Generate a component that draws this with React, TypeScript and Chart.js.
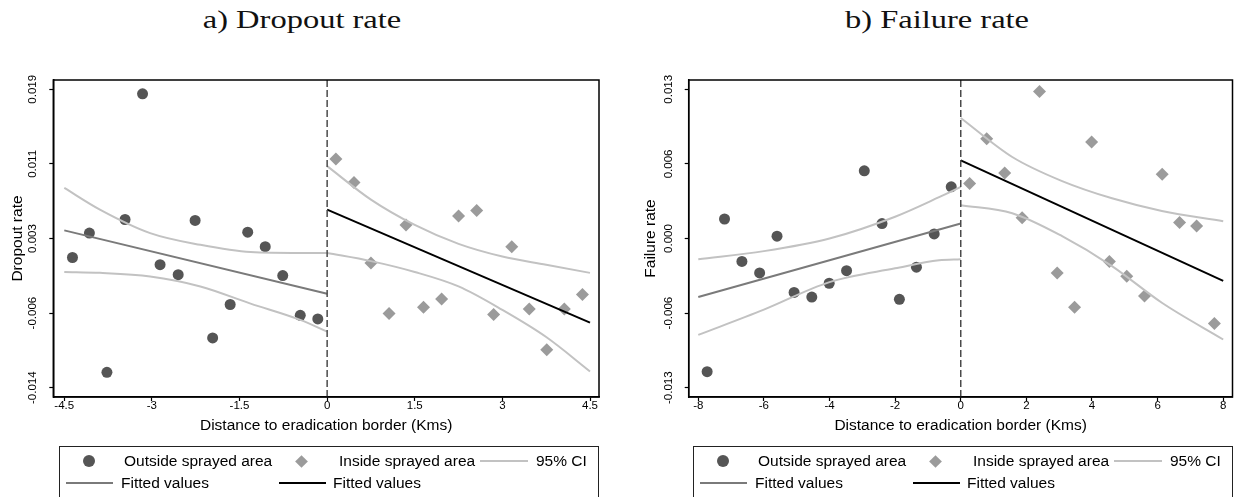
import React, { useEffect, useRef } from "react";
import { Chart, registerables } from "chart.js";

Chart.register(...registerables);

// ---------- Panel a) Dropout rate ----------
const A_OUT_X = [-4.36, -4.07, -3.77, -3.46, -3.16, -2.86, -2.55, -2.26, -1.96, -1.66, -1.36, -1.06, -0.76, -0.46, -0.16];
const A_OUT_Y = [0.0004, 0.0031, -0.0123, 0.0046, 0.0185, -0.0004, -0.0015, 0.0045, -0.0085, -0.0048, 0.0032, 0.0016, -0.0016, -0.006, -0.0064];
const A_IN_X = [0.15, 0.46, 0.75, 1.06, 1.35, 1.65, 1.96, 2.25, 2.56, 2.85, 3.16, 3.46, 3.76, 4.06, 4.37];
const A_IN_Y = [0.0113, 0.0087, -0.0002, -0.0058, 0.004, -0.0051, -0.0042, 0.005, 0.0056, -0.0059, 0.0016, -0.0053, -0.0098, -0.0053, -0.0037];
const A_FIT_OUT_X = [-4.5, 0];
const A_FIT_OUT_Y = [0.0034, -0.0036];
const A_FIT_IN_X = [0, 4.5];
const A_FIT_IN_Y = [0.0057, -0.0068];
const A_CI_OUT_X = [-4.5, -3.89, -3.03, -2.17, -1.31, -0.46, 0];
const A_CI_OUT_HI = [0.0081, 0.0057, 0.0031, 0.0018, 0.001, 0.0009, 0.0009];
const A_CI_OUT_LO = [-0.0012, -0.0013, -0.0017, -0.0028, -0.0047, -0.0065, -0.0078];
const A_CI_IN_X = [0, 0.75, 1.5, 2.25, 3, 3.75, 4.5];
const A_CI_IN_HI = [0.0105, 0.0068, 0.004, 0.0019, 0.0005, -0.0004, -0.0013];
const A_CI_IN_LO = [0.0009, 0.0, -0.0012, -0.0028, -0.0054, -0.0084, -0.0122];
const A_X_TICKS = [-4.5, -3, -1.5, 0, 1.5, 3, 4.5];
const A_X_LABELS = ["-4.5", "-3", "-1.5", "0", "1.5", "3", "4.5"];
const A_Y_TICKS = [-0.014, -0.00575, 0.0025, 0.01075, 0.019];
const A_Y_LABELS = ["-0.014", "-0.006", "0.003", "0.011", "0.019"];

// ---------- Panel b) Failure rate ----------
const B_OUT_X = [-7.73, -7.2, -6.67, -6.13, -5.6, -5.08, -4.54, -4.01, -3.48, -2.94, -2.4, -1.87, -1.35, -0.81, -0.29];
const B_OUT_Y = [-0.0116, 0.0017, -0.002, -0.003, 0.0002, -0.0047, -0.0051, -0.0039, -0.0028, 0.0059, 0.0013, -0.0053, -0.0025, 0.0004, 0.0045];
const B_IN_X = [0.27, 0.79, 1.34, 1.87, 2.4, 2.94, 3.47, 3.99, 4.53, 5.06, 5.6, 6.14, 6.67, 7.19, 7.73];
const B_IN_Y = [0.0048, 0.0087, 0.0057, 0.0018, 0.0128, -0.003, -0.006, 0.0084, -0.002, -0.0033, -0.005, 0.0056, 0.0014, 0.0011, -0.0074];
const B_FIT_OUT_X = [-8, 0];
const B_FIT_OUT_Y = [-0.0051, 0.0013];
const B_FIT_IN_X = [0, 8];
const B_FIT_IN_Y = [0.0068, -0.0037];
const B_CI_OUT_X = [-8, -6, -4, -2, -0.66, 0];
const B_CI_OUT_HI = [-0.0018, -0.0011, 0.0, 0.0019, 0.0036, 0.0045];
const B_CI_OUT_LO = [-0.0084, -0.0062, -0.0038, -0.0026, -0.0019, -0.0018];
const B_CI_IN_X = [0, 1.57, 3.09, 4.61, 6.13, 8];
const B_CI_IN_HI = [0.0105, 0.0071, 0.005, 0.0035, 0.0024, 0.0015];
const B_CI_IN_LO = [0.0029, 0.0022, 0.0002, -0.0024, -0.0056, -0.0088];
const B_X_TICKS = [-8, -6, -4, -2, 0, 2, 4, 6, 8];
const B_X_LABELS = ["-8", "-6", "-4", "-2", "0", "2", "4", "6", "8"];
const B_Y_TICKS = [-0.013, -0.0065, 0, 0.0065, 0.013];
const B_Y_LABELS = ["-0.013", "-0.006", "0.000", "0.006", "0.013"];

const X_TITLE = "Distance to eradication border (Kms)";
const LEGEND_LABELS = ["Outside sprayed area", "Inside sprayed area", "95% CI", "Fitted values", "Fitted values"];

const SANS = '"Liberation Sans", Arial, sans-serif';
const C_OUT = "#555555";
const C_IN = "#9b9b9b";
const C_CI = "#c2c2c2";
const C_FIT_OUT = "#7a7a7a";
const C_FIT_IN = "#000000";

type Panel = {
  outX: number[]; outY: number[]; inX: number[]; inY: number[];
  fitOutX: number[]; fitOutY: number[]; fitInX: number[]; fitInY: number[];
  ciOutX: number[]; ciOutHi: number[]; ciOutLo: number[];
  ciInX: number[]; ciInHi: number[]; ciInLo: number[];
  xMin: number; xMax: number; xTicks: number[]; xLabels: string[];
  yMin: number; yMax: number; yTicks: number[]; yLabels: string[];
  yTitle: string; yAxisWidth: number; padRight: number;
};

const PANEL_A: Panel = {
  outX: A_OUT_X, outY: A_OUT_Y, inX: A_IN_X, inY: A_IN_Y,
  fitOutX: A_FIT_OUT_X, fitOutY: A_FIT_OUT_Y, fitInX: A_FIT_IN_X, fitInY: A_FIT_IN_Y,
  ciOutX: A_CI_OUT_X, ciOutHi: A_CI_OUT_HI, ciOutLo: A_CI_OUT_LO,
  ciInX: A_CI_IN_X, ciInHi: A_CI_IN_HI, ciInLo: A_CI_IN_LO,
  xMin: -4.688, xMax: 4.654, xTicks: A_X_TICKS, xLabels: A_X_LABELS,
  yMin: -0.01503, yMax: 0.02003, yTicks: A_Y_TICKS, yLabels: A_Y_LABELS,
  yTitle: "Dropout rate", yAxisWidth: 53.3, padRight: 21,
};

const PANEL_B: Panel = {
  outX: B_OUT_X, outY: B_OUT_Y, inX: B_IN_X, inY: B_IN_Y,
  fitOutX: B_FIT_OUT_X, fitOutY: B_FIT_OUT_Y, fitInX: B_FIT_IN_X, fitInY: B_FIT_IN_Y,
  ciOutX: B_CI_OUT_X, ciOutHi: B_CI_OUT_HI, ciOutLo: B_CI_OUT_LO,
  ciInX: B_CI_IN_X, ciInHi: B_CI_IN_HI, ciInLo: B_CI_IN_LO,
  xMin: -8.292, xMax: 8.283, xTicks: B_X_TICKS, xLabels: B_X_LABELS,
  yMin: -0.01381, yMax: 0.01381, yTicks: B_Y_TICKS, yLabels: B_Y_LABELS,
  yTitle: "Failure rate", yAxisWidth: 55.7, padRight: 4.7,
};

const pts = (xs: number[], ys: number[]) => xs.map((x, i) => ({ x, y: ys[i] }));

const framePlugin = {
  id: "frame",
  afterDatasetsDraw(chart: any) {
    const { ctx, chartArea: a } = chart;
    ctx.save();
    ctx.strokeStyle = "#000";
    ctx.lineWidth = 1.5;
    ctx.strokeRect(a.left, a.top, a.right - a.left, a.bottom - a.top);
    ctx.restore();
  },
};

function lineDs(data: any[], color: string, width: number, smooth: boolean, dash?: number[]) {
  return {
    data,
    showLine: true,
    borderColor: color,
    backgroundColor: color,
    borderWidth: width,
    borderDash: dash || [],
    pointRadius: 0,
    fill: false,
    cubicInterpolationMode: smooth ? "monotone" : "default",
  };
}

function PanelChart({ p, left, width }: { p: Panel; left: number; width: number }) {
  const ref = useRef<HTMLCanvasElement>(null);
  useEffect(() => {
    if (!ref.current) return;
    const chart = new Chart(ref.current, {
      type: "scatter",
      data: {
        datasets: [
          lineDs([{ x: 0, y: p.yMin }, { x: 0, y: p.yMax }], "#4a4a4a", 1.5, false, [7, 3]),
          lineDs(pts(p.fitInX, p.fitInY), C_FIT_IN, 2, false),
          lineDs(pts(p.fitOutX, p.fitOutY), C_FIT_OUT, 2, false),
          lineDs(pts(p.ciOutX, p.ciOutHi), C_CI, 2, true),
          lineDs(pts(p.ciOutX, p.ciOutLo), C_CI, 2, true),
          lineDs(pts(p.ciInX, p.ciInHi), C_CI, 2, true),
          lineDs(pts(p.ciInX, p.ciInLo), C_CI, 2, true),
          {
            data: pts(p.inX, p.inY),
            pointStyle: "rectRot",
            pointRadius: 6.5,
            backgroundColor: C_IN,
            borderColor: C_IN,
            borderWidth: 0,
          },
          {
            data: pts(p.outX, p.outY),
            pointStyle: "circle",
            pointRadius: 5.5,
            backgroundColor: C_OUT,
            borderColor: C_OUT,
            borderWidth: 0,
          },
        ] as any,
      },
      options: {
        animation: false,
        responsive: false,
        events: [],
        layout: { padding: { left: 0, top: 20, right: p.padRight, bottom: 0 } },
        plugins: { legend: { display: false }, tooltip: { enabled: false }, title: { display: false } },
        scales: {
          x: {
            type: "linear",
            min: p.xMin,
            max: p.xMax,
            afterBuildTicks: (s: any) => {
              s.ticks = p.xTicks.map((v) => ({ value: v }));
            },
            afterFit: (s: any) => {
              s.height = 53;
              s.paddingLeft = 0;
              s.paddingRight = 0;
              s.paddingTop = 0;
              s.paddingBottom = 0;
            },
            ticks: {
              callback: (_v: any, i: number) => p.xLabels[i],
              font: { family: SANS, size: 11.5, lineHeight: 1 },
              color: "#000",
              padding: -1,
              minRotation: 0,
              maxRotation: 0,
              autoSkip: false,
            },
            grid: { drawOnChartArea: false, drawTicks: true, tickLength: 4, tickColor: "#000", tickWidth: 1.2 },
            border: { display: true, color: "#000", width: 1.5 },
            title: {
              display: true,
              text: X_TITLE,
              color: "#000",
              font: { family: SANS, size: 15.5, lineHeight: 1.2 },
              padding: { top: 0, bottom: 14.7 },
            },
          },
          y: {
            type: "linear",
            min: p.yMin,
            max: p.yMax,
            afterBuildTicks: (s: any) => {
              s.ticks = p.yTicks.map((v) => ({ value: v }));
            },
            afterFit: (s: any) => {
              s.width = p.yAxisWidth;
              s.paddingLeft = 0;
              s.paddingRight = 0;
              s.paddingTop = 0;
              s.paddingBottom = 0;
            },
            ticks: {
              callback: (_v: any, i: number) => p.yLabels[i],
              font: { family: SANS, size: 11.5, lineHeight: 1.2 },
              color: "#000",
              padding: 0,
              minRotation: 90,
              maxRotation: 90,
              crossAlign: "center",
              autoSkip: false,
            },
            grid: { drawOnChartArea: false, drawTicks: true, tickLength: 4, tickColor: "#000", tickWidth: 1.2 },
            border: { display: true, color: "#000", width: 1.5 },
            title: {
              display: true,
              text: p.yTitle,
              color: "#000",
              font: { family: SANS, size: 15.5, lineHeight: 1.2 },
              padding: { top: 8.7, bottom: 0 },
            },
          },
        },
      } as any,
      plugins: [framePlugin],
    });
    return () => chart.destroy();
  }, [p]);
  return (
    <canvas
      ref={ref}
      width={width}
      height={390}
      style={{ position: "absolute", left, top: 60, width, height: 390 }}
    />
  );
}

function Title({ text, center }: { text: string; center: number }) {
  return (
    <div
      style={{
        position: "absolute",
        left: center - 150,
        top: 7,
        width: 300,
        textAlign: "center",
        fontFamily: '"Liberation Serif", "Times New Roman", serif',
        fontSize: 26,
        lineHeight: "26px",
        color: "#111",
        transform: "scaleX(1.25)",
        transformOrigin: "center",
        whiteSpace: "nowrap",
      }}
    >
      {text}
    </div>
  );
}

function Legend({ left }: { left: number }) {
  const txt = (x: number, y: number, s: string) => (
    <span style={{ position: "absolute", left: x, top: y - 9, lineHeight: "18px", whiteSpace: "nowrap" }}>{s}</span>
  );
  const line = (x1: number, x2: number, y: number, c: string) => (
    <div style={{ position: "absolute", left: x1, top: y - 1, width: x2 - x1, height: 2, background: c }} />
  );
  const r1 = 14;
  const r2 = 36;
  return (
    <div
      style={{
        position: "absolute",
        left,
        top: 446,
        width: 540,
        height: 70,
        border: "1px solid #222",
        boxSizing: "border-box",
        fontFamily: SANS,
        fontSize: 15.5,
        color: "#000",
      }}
    >
      <div style={{ position: "absolute", left: 23, top: r1 - 6, width: 12, height: 12, borderRadius: 6, background: C_OUT }} />
      {txt(64, r1, LEGEND_LABELS[0])}
      <div style={{ position: "absolute", left: 237, top: r1 - 4.5, width: 9, height: 9, background: C_IN, transform: "rotate(45deg)" }} />
      {txt(279, r1, LEGEND_LABELS[1])}
      {line(420, 468, r1, C_CI)}
      {txt(476, r1, LEGEND_LABELS[2])}
      {line(6, 53, r2, C_FIT_OUT)}
      {txt(61, r2, LEGEND_LABELS[3])}
      {line(219, 266, r2, C_FIT_IN)}
      {txt(273, r2, LEGEND_LABELS[4])}
    </div>
  );
}

export default function App() {
  return (
    <div
      style={{
        position: "absolute",
        left: 0,
        top: 0,
        width: 1239,
        height: 497,
        overflow: "hidden",
        background: "#fff",
      }}
    >
      <Title text="a) Dropout rate" center={302} />
      <Title text="b) Failure rate" center={937} />
      <PanelChart p={PANEL_A} left={0} width={620} />
      <PanelChart p={PANEL_B} left={633} width={606} />
      <Legend left={59} />
      <Legend left={693} />
    </div>
  );
}
